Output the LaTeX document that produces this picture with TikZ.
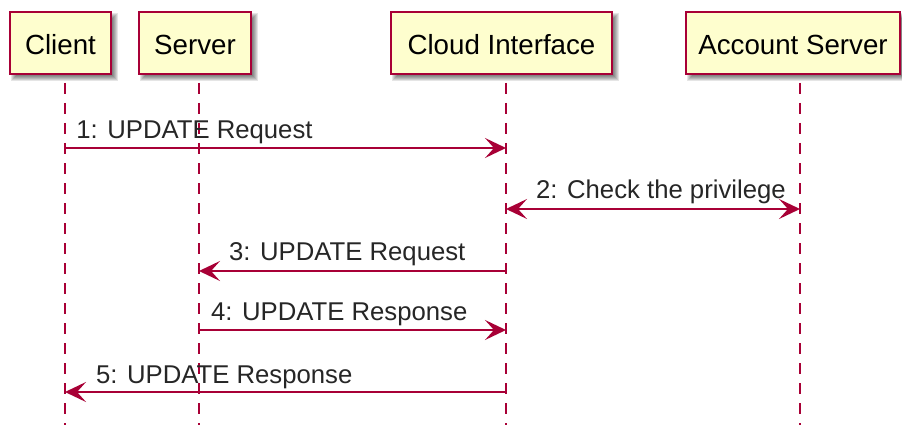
\documentclass[tikz,border=0pt]{standalone}
\usepackage{fontspec}
\setmainfont{Liberation Sans}
\usetikzlibrary{arrows.meta,backgrounds}
\definecolor{pred}{HTML}{A80036}
\definecolor{pfill}{HTML}{FEFECE}
\newcommand\pshadow[1]{%
  \foreach \e in {3,2,1,0,-1,-2}{%
    \fill[black, opacity=0.1]
      ([shift={(4-\e,4-\e)}]#1.north west) rectangle ([shift={(4+\e,4+\e)}]#1.south east);
  }}
\begin{document}
\begin{tikzpicture}[x=1pt,y=-1pt,
  part/.style={draw=pred, line width=2.5pt, fill=pfill, minimum height=62pt,
    inner sep=0pt, outer sep=0pt, text height=23pt, text depth=0pt,
    font=\fontsize{27.7}{32}\selectfont},
  life/.style={draw=pred, line width=2pt, dash pattern=on 11pt off 9pt},
  tip/.tip={Stealth[length=21pt,width=20pt,inset=9pt]},
  msg/.style={draw=pred, line width=2pt, -tip},
  bimsg/.style={draw=pred, line width=2pt, tip-tip},
  lbl/.style={anchor=base west, inner sep=0pt, text=black!85, font=\fontsize{25.7}{30}\selectfont}]
\useasboundingbox (0,0) rectangle (902,425);

% participants
\node[part, minimum width=101pt] (client) at (60.5,43) {Client};
\node[part, minimum width=112pt] (server) at (195,43) {Server};
\node[part, minimum width=221pt] (cloud) at (501.5,43) {Cloud Interface};
\node[part, minimum width=214pt] (account) at (793,43) {Account Server};

\begin{scope}[on background layer]
  \fill[white] (0,0) rectangle (902,425);
  \pshadow{client}
  \pshadow{server}
  \pshadow{cloud}
  \pshadow{account}
\end{scope}

% lifelines
\coordinate (lc) at ([xshift=4.5pt,yshift=-9pt]client.south);
\coordinate (ls) at ([xshift=4pt,yshift=-9pt]server.south);
\coordinate (li) at ([xshift=4.5pt,yshift=-9pt]cloud.south);
\coordinate (la) at ([xshift=7pt,yshift=-9pt]account.south);
\coordinate (bottom) at (0,425);
\draw[life] (lc) -- (lc |- bottom);
\draw[life] (ls) -- (ls |- bottom);
\draw[life] (li) -- (li |- bottom);
\draw[life] (la) -- (la |- bottom);

% message rows
\coordinate (m1) at (0,148);
\coordinate (m2) at (0,209);
\coordinate (m3) at (0,271);
\coordinate (m4) at (0,330);
\coordinate (m5) at (0,392);

\draw[msg] (lc |- m1) -- (li |- m1);
\draw[bimsg] (li |- m2) -- (la |- m2);
\draw[msg] (li |- m3) -- (ls |- m3);
\draw[msg] (ls |- m4) -- (li |- m4);
\draw[msg] (li |- m5) -- (lc |- m5);

\node[lbl] (t1) at (76.2,138.7) {1: UPDATE Request};
\node[lbl] (t2) at (536,198.3) {2: Check the privilege};
\node[lbl] (t3) at (229,260) {3: UPDATE Request};
\node[lbl] (t4) at (211,320.5) {4: UPDATE Response};
\node[lbl] (t5) at (96,383) {5: UPDATE Response};
\end{tikzpicture}
\end{document}
